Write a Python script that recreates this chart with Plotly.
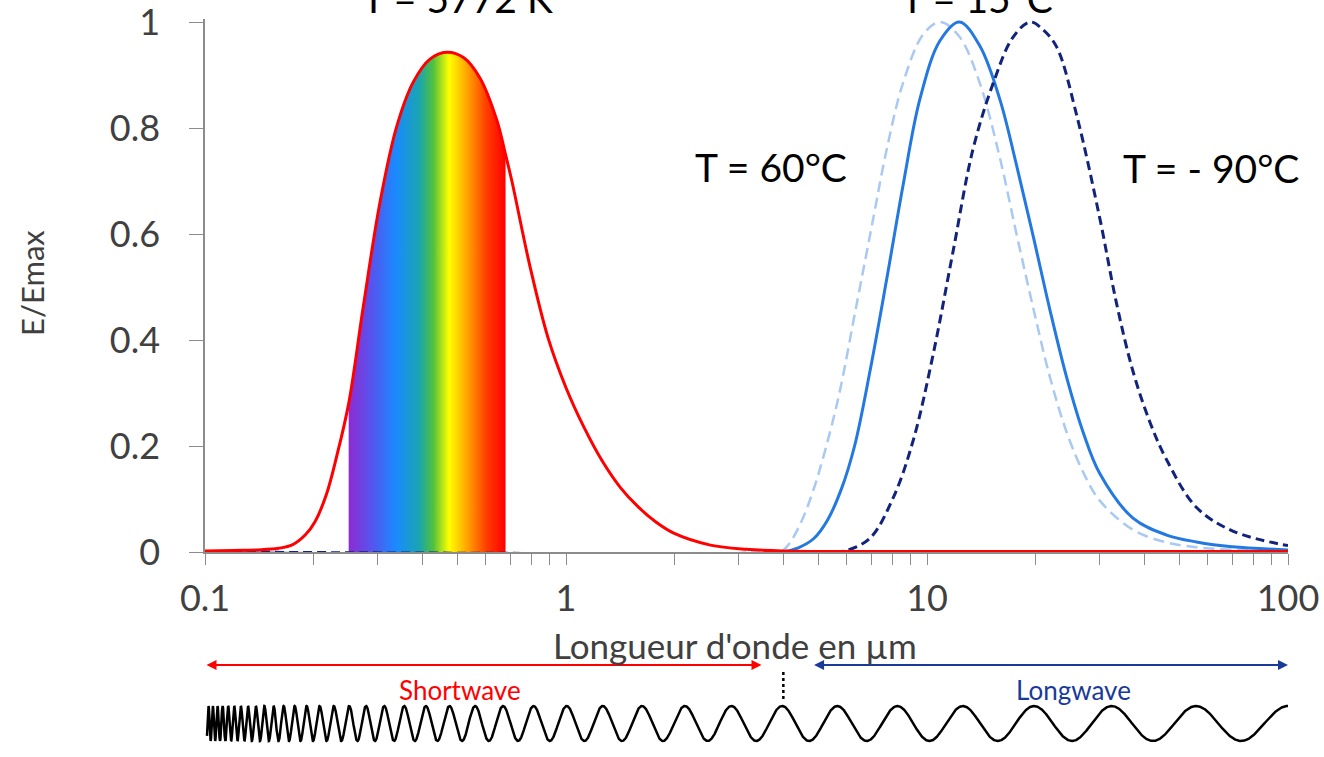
import numpy as np
import plotly.graph_objects as go

# ---------------- data ----------------
# Sun, T = 5772 K  (wavelength in µm, E/Emax)
wl_sun = [0.1, 0.12, 0.14, 0.16, 0.175, 0.19, 0.2017, 0.217, 0.2317, 0.25, 0.2746, 0.3053,
          0.3397, 0.3777, 0.42, 0.467, 0.52, 0.578, 0.643, 0.68, 0.708, 0.794, 0.891, 1.0,
          1.122, 1.259, 1.413, 1.585, 1.778, 1.995, 2.512, 3.162, 3.98, 6.3, 10, 100]
e_sun = [0.002, 0.003, 0.004, 0.007, 0.014, 0.033, 0.057, 0.109, 0.181, 0.28, 0.464, 0.66,
         0.803, 0.887, 0.93, 0.943, 0.933, 0.894, 0.815, 0.75, 0.70, 0.54, 0.405, 0.31,
         0.235, 0.172, 0.122, 0.085, 0.056, 0.035, 0.013, 0.005, 0.002, 0.001, 0.001, 0.001]

# T = 60 °C
wl_60 = [0.1, 3.9, 4.09, 4.4, 4.84, 5.62, 6.39, 7.1, 7.73, 8.6, 9.77, 10.87, 12.3, 14.0, 15.9,
         17.7, 19.7, 21.9, 24.4, 27.1, 30.1, 37.2, 46.1, 55.8, 70, 100]
e_60 = [0, 0, 0.01, 0.045, 0.116, 0.277, 0.469, 0.63, 0.759, 0.887, 0.977, 1.0, 0.972, 0.885, 0.745,
        0.60, 0.46, 0.33, 0.225, 0.15, 0.097, 0.042, 0.018, 0.009, 0.004, 0.001]

# T = 15 °C
wl_15 = [0.1, 4.0, 4.4, 4.85, 5.3, 5.8, 6.3, 6.95, 7.73, 8.6, 9.56, 10.87, 12.3, 14.0, 15.9, 17.7,
         19.7, 21.9, 24.4, 27.1, 30.1, 37.2, 46.1, 55.8, 70, 100]
e_15 = [0, 0, 0.008, 0.025, 0.06, 0.12, 0.2, 0.341, 0.514, 0.695, 0.855, 0.965, 1.0, 0.955, 0.855,
        0.73, 0.595, 0.457, 0.328, 0.225, 0.148, 0.064, 0.032, 0.019, 0.01, 0.004]

# T = -90 °C
wl_m90 = [0.1, 5.5, 5.99, 6.95, 8.07, 9.17, 10.4, 11.8, 13.4, 15.3, 17.3, 19.3, 21.0, 22.9, 26.0,
          30.1, 33.5, 37.2, 41.5, 46.1, 55.8, 70.6, 100]
e_m90 = [0, 0, 0.003, 0.026, 0.103, 0.212, 0.373, 0.566, 0.759, 0.887, 0.971, 1.0, 0.985, 0.952,
         0.823, 0.63, 0.469, 0.341, 0.244, 0.174, 0.084, 0.039, 0.012]

VIS_MIN, VIS_MAX = 0.25, 0.68          # visible band (µm)
SW_RANGE = [0.1, 3.48]                 # shortwave arrow (µm)
LW_RANGE = [4.82, 100]                 # longwave arrow (µm)
SEPARATOR = 4.0                        # boundary (µm)

x_tickvals = [0.1, 1, 10, 100]
x_ticktext = ["0.1", "1", "10", "100"]
y_tickvals = [0, 0.2, 0.4, 0.6, 0.8, 1]
y_ticktext = ["0", "0.2", "0.4", "0.6", "0.8", "1"]

# ---------------- layout geometry (figure pixels) ----------------
W, H = 1324, 757
X0, X1 = 205, 1288        # x-axis pixel extent (0.1 .. 100)
Y0, Y1 = 552, 22          # y pixel of E/Emax = 0 and 1


def fx(pix):
    return pix / W


def fy(pix):
    return (H - pix) / H


Y_TOP = 1.006
y_top_pix = Y0 - (Y0 - Y1) * Y_TOP

FONT = "Lato, 'Open Sans', sans-serif"
GREY = "#404040"

fig = go.Figure()

# rainbow fill of the visible part
vis_x = [w for w in wl_sun if VIS_MIN <= w <= VIS_MAX]
vis_y = [e for w, e in zip(wl_sun, e_sun) if VIS_MIN <= w <= VIS_MAX]
fig.add_trace(go.Scatter(
    x=vis_x, y=vis_y, mode="lines", line=dict(width=0, shape="spline"),
    fill="tozeroy",
    fillgradient=dict(type="horizontal", colorscale=[
        [0.0, "#8e2bd2"], [0.16, "#5158f0"], [0.30, "#1a8aff"], [0.45, "#1aa5b0"],
        [0.54, "#52c03c"], [0.64, "#ffff00"], [0.76, "#ffa000"], [0.88, "#ff3c00"],
        [1.0, "#ff0000"]]),
    hoverinfo="skip", showlegend=False))

fig.add_trace(go.Scatter(x=wl_60, y=e_60, mode="lines",
                         line=dict(color="#a9c9f2", width=2.5, dash="11px,6px", shape="spline"),
                         showlegend=False))
fig.add_trace(go.Scatter(x=wl_15, y=e_15, mode="lines",
                         line=dict(color="#2479e0", width=3, shape="spline"),
                         showlegend=False))
fig.add_trace(go.Scatter(x=wl_m90, y=e_m90, mode="lines",
                         line=dict(color="#11237a", width=3, dash="9px,5px", shape="spline"),
                         showlegend=False))
fig.add_trace(go.Scatter(x=wl_sun, y=e_sun, mode="lines",
                         line=dict(color="#ff0000", width=3, shape="spline"),
                         showlegend=False))

# ---------------- lower illustration (x2 / y2 ; y2 = 757 - pixel row) ----------------
# decorative wave whose period grows with wavelength
B_GROW = 0.085
xp = np.linspace(X0 + 2, X1, 9000)
per = 4 + B_GROW * (xp - xp[0])
phase = 2 * np.pi / B_GROW * np.log(per / 4)
phase = phase - phase[-1] + np.pi / 2
wave_y = (H - 723.5) + 17.5 * np.sin(phase)
wave_x = 10 ** (-1 + 3 * (xp - X0) / (X1 - X0))
fig.add_trace(go.Scatter(x=wave_x, y=wave_y, xaxis="x2", yaxis="y2", mode="lines",
                         line=dict(color="black", width=2.5), hoverinfo="skip",
                         showlegend=False))
# dotted separator
fig.add_trace(go.Scatter(x=[SEPARATOR, SEPARATOR], y=[H - 672, H - 702], xaxis="x2", yaxis="y2",
                         mode="lines", line=dict(color="black", width=2.5, dash="dot"),
                         hoverinfo="skip", showlegend=False))

C = dict(xanchor="center", yanchor="middle", showarrow=False)
annotations = [
    # arrows
    dict(x=np.log10(SW_RANGE[1]), y=H - 665, ax=np.log10(SW_RANGE[0]), ay=H - 665,
         xref="x2", yref="y2", axref="x2", ayref="y2", text="", showarrow=True,
         arrowhead=2, arrowside="end+start", arrowwidth=2, arrowsize=1, arrowcolor="#ff0000"),
    dict(x=np.log10(LW_RANGE[1]), y=H - 665, ax=np.log10(LW_RANGE[0]), ay=H - 665,
         xref="x2", yref="y2", axref="x2", ayref="y2", text="", showarrow=True,
         arrowhead=2, arrowside="end+start", arrowwidth=2, arrowsize=1, arrowcolor="#1a3a9a"),
    dict(x=np.log10(0.51), y=H - 690, xref="x2", yref="y2", text="Shortwave",
         font=dict(family=FONT, size=26, color="#ff0000"), **C),
    dict(x=np.log10(25.5), y=H - 690, xref="x2", yref="y2", text="Longwave",
         font=dict(family=FONT, size=26, color="#1a3a9a"), **C),
    # axis titles
    dict(x=fx(735), y=fy(645), xref="paper", yref="paper", text="Longueur d'onde en µm",
         font=dict(family=FONT, size=35, color=GREY), **C),
    dict(x=fx(32), y=fy(283), xref="paper", yref="paper", text="E/Emax", textangle=-90,
         font=dict(family=FONT, size=31, color=GREY), **C),
    # temperature labels (the top two are partly above the picture, as in the original)
    dict(x=np.log10(0.499), y=fy(-2), xref="x", yref="paper", text="T = 5772 K",
         font=dict(family=FONT, size=39, color="black"), **C),
    dict(x=np.log10(13.76), y=fy(-2), xref="x", yref="paper", text="T = 15°C",
         font=dict(family=FONT, size=39, color="black"), **C),
    dict(x=np.log10(3.7), y=0.726, xref="x", yref="y", text="T = 60°C",
         font=dict(family=FONT, size=39, color="black"), **C),
    dict(x=np.log10(61.2), y=0.725, xref="x", yref="y", text="T = - 90°C",
         font=dict(family=FONT, size=39, color="black"), **C),
]

axis_common = dict(showgrid=False, zeroline=False, showline=True, linecolor="#8c8c8c",
                   linewidth=1.5, ticks="outside", tickcolor="#8c8c8c", tickwidth=1.2,
                   automargin=False, ticklabeloverflow="allow")

fig.update_layout(
    width=W, height=H,
    margin=dict(l=0, r=0, t=0, b=0, autoexpand=False),
    paper_bgcolor="white", plot_bgcolor="white",
    font=dict(family=FONT, color=GREY),
    showlegend=False,
    annotations=annotations,
    xaxis=dict(type="log", range=[-1, 2], domain=[fx(X0), fx(X1)], tickvals=x_tickvals,
               ticktext=x_ticktext, ticklen=11,
               tickfont=dict(family=FONT, size=36, color=GREY), ticklabelstandoff=3,
               minor=dict(ticks="outside", ticklen=11, tickcolor="#8c8c8c", tickwidth=1.2,
                          dtick="D1", showgrid=False),
               anchor="y", **axis_common),
    yaxis=dict(range=[0, Y_TOP], domain=[fy(Y0), fy(y_top_pix)], tickvals=y_tickvals,
               ticktext=y_ticktext, ticklen=14,
               tickfont=dict(family=FONT, size=36, color=GREY), ticklabelstandoff=22,
               anchor="x", **axis_common),
    xaxis2=dict(type="log", range=[-1, 2], domain=[fx(X0), fx(X1)], visible=False, anchor="y2"),
    yaxis2=dict(range=[0, H - 650], domain=[0, fy(650)], visible=False, anchor="x2"),
)

fig.write_html("out.html")
